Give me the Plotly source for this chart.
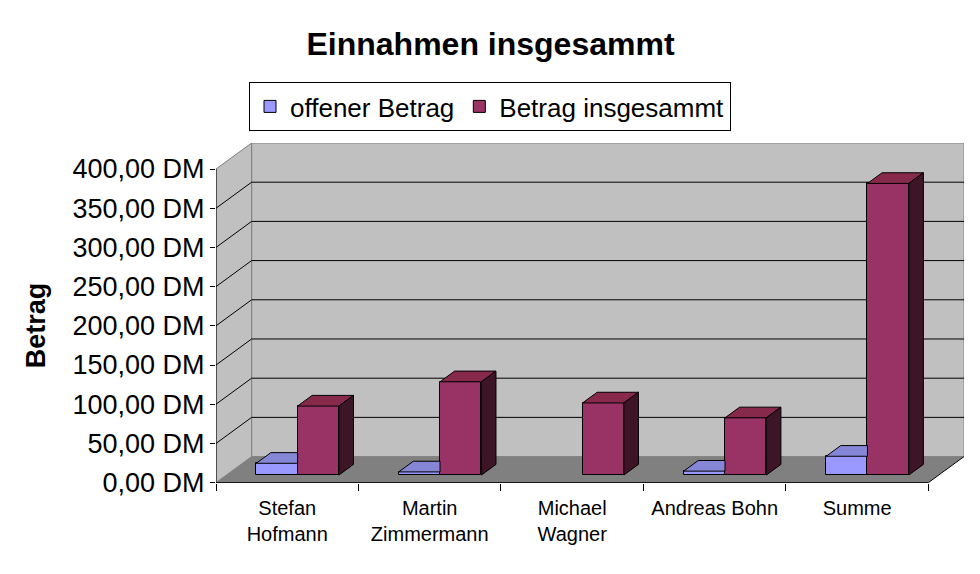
import plotly.graph_objects as go

# ---- data ----
categories = ["Stefan<br>Hofmann", "Martin<br>Zimmermann", "Michael<br>Wagner", "Andreas Bohn", "Summe"]
offener_betrag = [15, 4, 0, 5, 24]
betrag_insgesamt = [88, 119, 92, 73, 372]
y_tick_values = [0, 50, 100, 150, 200, 250, 300, 350, 400]
y_tick_labels = [f"{v:.2f}".replace(".", ",") + " DM" for v in y_tick_values]

# ---- pseudo-3D geometry (in axis units) ----
N = len(categories)
YMAX = 400
DX, DY = 0.25, 33.2          # full depth offset
F0, F1 = 0.29, 0.70          # bar front / back depth fractions
BW = 0.29                    # bar width
ddx, ddy = (F1 - F0) * DX, (F1 - F0) * DY
base = F0 * DY

FONT = "Liberation Sans, Arial, sans-serif"
C_OFF, C_TOT = "#9999FF", "#993366"

# page body has an 8px margin; compensate so the chart lands where the reference has it
OFF = 8
W, H = 980, 574
ML, MR, MT, MB = 216 - OFF, 24, 143 - OFF, 99
PW, PH = W - ML - MR, H - MT - MB

fig = go.Figure()

x_off = [i + 0.5 - BW / 2 + F0 * DX for i in range(N)]
x_tot = [i + 0.5 + BW / 2 + F0 * DX for i in range(N)]
off_shown = [v if v > 0 else None for v in offener_betrag]

fig.add_trace(go.Bar(x=x_off, y=off_shown, base=base, width=BW, name="offener Betrag",
                     marker=dict(color=C_OFF, line=dict(color="black", width=1))))
fig.add_trace(go.Bar(x=x_tot, y=betrag_insgesamt, base=base, width=BW, name="Betrag insgesammt",
                     marker=dict(color=C_TOT, line=dict(color="black", width=1))))

# top faces of offener Betrag (right part hidden behind the neighbouring bar)
px, py = [], []
for xc, v in zip(x_off, offener_betrag):
    if v <= 0:
        continue
    x0, x1, t = xc - BW / 2, xc + BW / 2, base + v
    px += [x0, x1, x1, x0 + ddx, x0, None]
    py += [t, t, t + ddy, t + ddy, t, None]
fig.add_trace(go.Scatter(x=px, y=py, mode="lines", fill="toself", fillcolor="#8686D6",
                         line=dict(color="black", width=1), showlegend=False, hoverinfo="skip"))

# top and side faces of Betrag insgesammt
tx, ty, sx, sy = [], [], [], []
for xc, v in zip(x_tot, betrag_insgesamt):
    x0, x1, t = xc - BW / 2, xc + BW / 2, base + v
    tx += [x0, x1, x1 + ddx, x0 + ddx, x0, None]
    ty += [t, t, t + ddy, t + ddy, t, None]
    sx += [x1, x1, x1 + ddx, x1 + ddx, x1, None]
    sy += [base, t, t + ddy, base + ddy, base, None]
fig.add_trace(go.Scatter(x=tx, y=ty, mode="lines", fill="toself", fillcolor="#86294A",
                         line=dict(color="black", width=1), showlegend=False, hoverinfo="skip"))
fig.add_trace(go.Scatter(x=sx, y=sy, mode="lines", fill="toself", fillcolor="#3E1427",
                         line=dict(color="black", width=1), showlegend=False, hoverinfo="skip"))

# ---- walls, floor, gridlines ----
shapes = []
shapes.append(dict(type="rect", xref="x", yref="y", x0=DX, y0=DY, x1=N + DX, y1=YMAX + DY,
                   fillcolor="#C0C0C0", line=dict(color="#808080", width=1), layer="below"))
shapes.append(dict(type="path", xref="x", yref="y",
                   path=f"M 0,0 L 0,{YMAX} L {DX},{YMAX + DY} L {DX},{DY} Z",
                   fillcolor="#C0C0C0", line=dict(color="#808080", width=1), layer="below"))
shapes.append(dict(type="path", xref="x", yref="y",
                   path=f"M 0,0 L {N},0 L {N + DX},{DY} L {DX},{DY} Z",
                   fillcolor="#808080", line=dict(width=0), layer="below"))
for v in y_tick_values[1:-1]:
    shapes.append(dict(type="line", xref="x", yref="y", x0=DX, y0=v + DY, x1=N + DX, y1=v + DY,
                       line=dict(color="black", width=1), layer="below"))
    shapes.append(dict(type="line", xref="x", yref="y", x0=0, y0=v, x1=DX, y1=v + DY,
                       line=dict(color="black", width=1), layer="below"))
shapes.append(dict(type="line", xref="x", yref="y", x0=0, y0=0, x1=N, y1=0,
                   line=dict(color="black", width=1), layer="below"))
shapes.append(dict(type="line", xref="x", yref="y", x0=N, y0=0, x1=N + DX, y1=DY,
                   line=dict(color="black", width=1), layer="below"))
shapes.append(dict(type="line", xref="x", yref="y", x0=0, y0=0, x1=0, y1=YMAX,
                   line=dict(color="black", width=1), layer="below"))

fig.update_layout(
    width=W, height=H,
    margin=dict(l=ML, r=MR, t=MT, b=MB),
    paper_bgcolor="white", plot_bgcolor="white",
    font=dict(family=FONT, color="black"),
    title=dict(text="<b>Einnahmen insgesammt</b>", font=dict(size=32, family=FONT, color="black"),
               x=(490.5 - OFF) / W, xref="container", xanchor="center",
               y=1 - (44 - OFF) / H, yref="container", yanchor="middle"),
    legend=dict(orientation="h", x=(490 - OFF) / W, xanchor="center",
                y=1 - (82 - OFF) / H, yanchor="top",
                xref="container", yref="container", bordercolor="black", borderwidth=1,
                bgcolor="white", font=dict(size=26, family=FONT, color="black"),
                itemwidth=30, tracegroupgap=0),
    barmode="overlay",
    bargap=0,
    shapes=shapes,
    annotations=[dict(text="<b>Betrag</b>", xref="paper", yref="paper", x=(36 - 216) / PW,
                      xanchor="center", y=(482.7 - 325) / PH, yanchor="middle", textangle=-90,
                      showarrow=False, font=dict(size=27, family=FONT, color="black"))],
    showlegend=True,
)
fig.update_xaxes(range=[0, N + DX], tickmode="array", tickvals=[i + 0.5 for i in range(N)],
                 ticktext=categories, ticks="", showgrid=False, zeroline=False, showline=False,
                 ticklabelstandoff=11,
                 tickfont=dict(size=20, family=FONT, color="black"),
                 minor=dict(tickmode="array", tickvals=list(range(N + 1)), ticks="outside",
                            ticklen=7, tickcolor="black", tickwidth=1, showgrid=False))
fig.update_yaxes(range=[-0.5, YMAX + DY], tickmode="array", tickvals=y_tick_values,
                 ticktext=y_tick_labels, ticks="outside", ticklen=5, tickcolor="black",
                 showgrid=False, zeroline=False, showline=False,
                 tickfont=dict(size=27, family=FONT, color="black"))

fig.write_html("out.html")
